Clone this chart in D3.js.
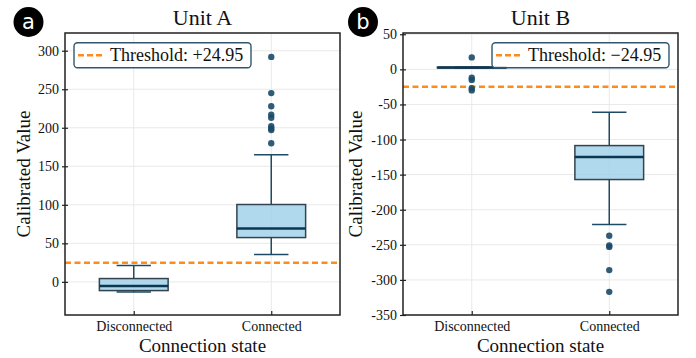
<!DOCTYPE html>
<html lang="en">
<head>
<meta charset="utf-8">
<title>Calibrated Value by Connection state</title>
<script src="https://d3js.org/d3.v7.min.js"></script>
<style>
  body { margin: 0; background: #fff; }
  text { font-family: "Liberation Serif", "Times New Roman", serif; fill: #111; }
</style>
</head>
<body>
<script>
// categories
var states = ["Disconnected", "Connected"]

// box stats per state: [lowWhisker, q1, median, q3, highWhisker]
var statsA = [[-13, -11.3, -5.2, 4.3, 21.2], [35.5, 57.5, 69.2, 100.4, 165]]
var statsB = [[2, 2, 2.5, 3, 3], [-221, -157, -124.8, -108.6, -61]]

// outliers per state
var outA = [[], [292, 245, 228, 217, 213, 202, 199, 197, 180]]
var outB = [[17, -12, -15, -27, -30], [-237, -251, -253, -286, -317]]

// thresholds
var thrA = 24.95
var thrB = -24.95

// tick values
var ticksA = [0, 50, 100, 150, 200, 250, 300]
var ticksB = [-350, -300, -250, -200, -150, -100, -50, 0, 50]

var orange = "#ff8c1a"
var boxFill = "#9ccfe8"
var boxEdge = "#34434d"
var whiskCol = "#1f4a63"
var medCol = "#0c3652"
var dotCol = "#1b4a68"

var W = 696, H = 358

var svg = d3.select("body").append("svg")
  .attr("width", W).attr("height", H)

var panels = [
  {left: 65, right: 340, top: 33, bottom: 315, domain: [-43, 323], ticks: ticksA,
   stats: statsA, out: outA, thr: thrA, title: "Unit A", tag: "a", tagX: 28.5,
   legText: "Threshold: +24.95", legX: 74, ylabX: 30, fmt: d3.format("d")},
  {left: 403, right: 678, top: 33, bottom: 315, domain: [-350, 51.8], ticks: ticksB,
   stats: statsB, out: outB, thr: thrB, title: "Unit B", tag: "b", tagX: 363,
   legText: "Threshold: \u221224.95", legX: 492, ylabX: 362, fmt: function(d){ return String(d) }}
]

panels.forEach(function(p) {
  var g = svg.append("g")
  var x = d3.scaleLinear().domain([-0.5, 1.5]).range([p.left, p.right])
  var y = d3.scaleLinear().domain(p.domain).range([p.bottom, p.top])
  var bw = x(0.25) - x(0)

  // grid
  g.append("g").selectAll("line").data(p.ticks).enter().append("line")
    .attr("x1", p.left).attr("x2", p.right)
    .attr("y1", d => y(d)).attr("y2", d => y(d))
    .attr("stroke", "#e9e9e9").attr("stroke-width", 1)
  g.append("g").selectAll("line").data(states).enter().append("line")
    .attr("x1", (d, i) => x(i)).attr("x2", (d, i) => x(i))
    .attr("y1", p.top).attr("y2", p.bottom)
    .attr("stroke", "#e9e9e9").attr("stroke-width", 1)

  // threshold
  g.append("line")
    .attr("x1", p.left).attr("x2", p.right)
    .attr("y1", y(p.thr)).attr("y2", y(p.thr))
    .attr("stroke", orange).attr("stroke-width", 2.5)
    .attr("stroke-dasharray", "6,3.5")

  // boxes
  p.stats.forEach(function(s, i) {
    var cx = x(i)
    g.append("line").attr("x1", cx).attr("x2", cx)
      .attr("y1", y(s[0])).attr("y2", y(s[1]))
      .attr("stroke", whiskCol).attr("stroke-width", 1.5)
    g.append("line").attr("x1", cx).attr("x2", cx)
      .attr("y1", y(s[3])).attr("y2", y(s[4]))
      .attr("stroke", whiskCol).attr("stroke-width", 1.5)
    ;[s[0], s[4]].forEach(function(v) {
      g.append("line").attr("x1", cx - bw / 2).attr("x2", cx + bw / 2)
        .attr("y1", y(v)).attr("y2", y(v))
        .attr("stroke", whiskCol).attr("stroke-width", 1.5)
    })
    g.append("rect")
      .attr("x", cx - bw).attr("width", bw * 2)
      .attr("y", y(s[3])).attr("height", Math.max(0.5, y(s[1]) - y(s[3])))
      .attr("fill", boxFill).attr("fill-opacity", 0.8)
      .attr("stroke", boxEdge).attr("stroke-width", 1.5)
    g.append("line").attr("x1", cx - bw).attr("x2", cx + bw)
      .attr("y1", y(s[2])).attr("y2", y(s[2]))
      .attr("stroke", medCol).attr("stroke-width", 2.5)

    g.append("g").selectAll("circle").data(p.out[i]).enter().append("circle")
      .attr("cx", cx).attr("cy", d => y(d)).attr("r", 3.2)
      .attr("fill", dotCol).attr("fill-opacity", 0.9)
  })

  // frame
  g.append("rect")
    .attr("x", p.left).attr("y", p.top)
    .attr("width", p.right - p.left).attr("height", p.bottom - p.top)
    .attr("fill", "none").attr("stroke", "#222").attr("stroke-width", 1.5)

  // y axis ticks (in and out)
  var ya = g.append("g").attr("transform", "translate(" + p.left + ",0)")
    .call(d3.axisLeft(y).tickValues(p.ticks).tickSizeInner(3).tickSizeOuter(0)
      .tickPadding(3).tickFormat(p.fmt))
  ya.select(".domain").remove()
  ya.selectAll(".tick line").attr("x1", 3).attr("x2", -3).attr("stroke", "#222").attr("stroke-width", 1.2)
  ya.selectAll("text").style("font-family", "Liberation Serif").style("font-size", "14px").attr("fill", "#111")

  // x axis ticks
  var xa = g.append("g").attr("transform", "translate(0," + p.bottom + ")")
    .call(d3.axisBottom(x).tickValues([0, 1]).tickSizeInner(-4).tickSizeOuter(0)
      .tickPadding(6).tickFormat(i => states[i]))
  xa.select(".domain").remove()
  xa.selectAll("line").attr("stroke", "#222").attr("stroke-width", 1.2)
  xa.selectAll("text").style("font-family", "Liberation Serif").style("font-size", "14px").attr("fill", "#111")

  // legend
  var lg = g.append("g").attr("transform", "translate(" + p.legX + ",42.7)")
  lg.append("rect").attr("width", 177).attr("height", 25).attr("rx", 3.5)
    .attr("fill", "#fff").attr("fill-opacity", 0.8)
    .attr("stroke", "#2f5870").attr("stroke-width", 1.4)
  lg.append("line").attr("x1", 4).attr("x2", 28).attr("y1", 12.5).attr("y2", 12.5)
    .attr("stroke", orange).attr("stroke-width", 2.5).attr("stroke-dasharray", "6,3")
  lg.append("text").attr("x", 36).attr("y", 18.5)
    .style("font-size", "18px").text(p.legText)

  // title
  g.append("text").attr("x", (p.left + p.right) / 2).attr("y", 25)
    .attr("text-anchor", "middle").style("font-size", "22px").text(p.title)

  // axis labels
  g.append("text").attr("x", (p.left + p.right) / 2).attr("y", 352)
    .attr("text-anchor", "middle").style("font-size", "19px").text("Connection state")
  g.append("text")
    .attr("transform", "translate(" + p.ylabX + "," + ((p.top + p.bottom) / 2) + ") rotate(-90)")
    .attr("text-anchor", "middle").style("font-size", "19px").text("Calibrated Value")

  // panel tag
  g.append("circle").attr("cx", p.tagX).attr("cy", 22).attr("r", 15).attr("fill", "#000")
  g.append("text").attr("x", p.tagX).attr("y", 29).attr("text-anchor", "middle")
    .style("font-family", "DejaVu Sans, sans-serif").style("font-size", "21px")
    .attr("fill", "#fff").style("fill", "#fff").text(p.tag)
})
</script>
</body>
</html>
